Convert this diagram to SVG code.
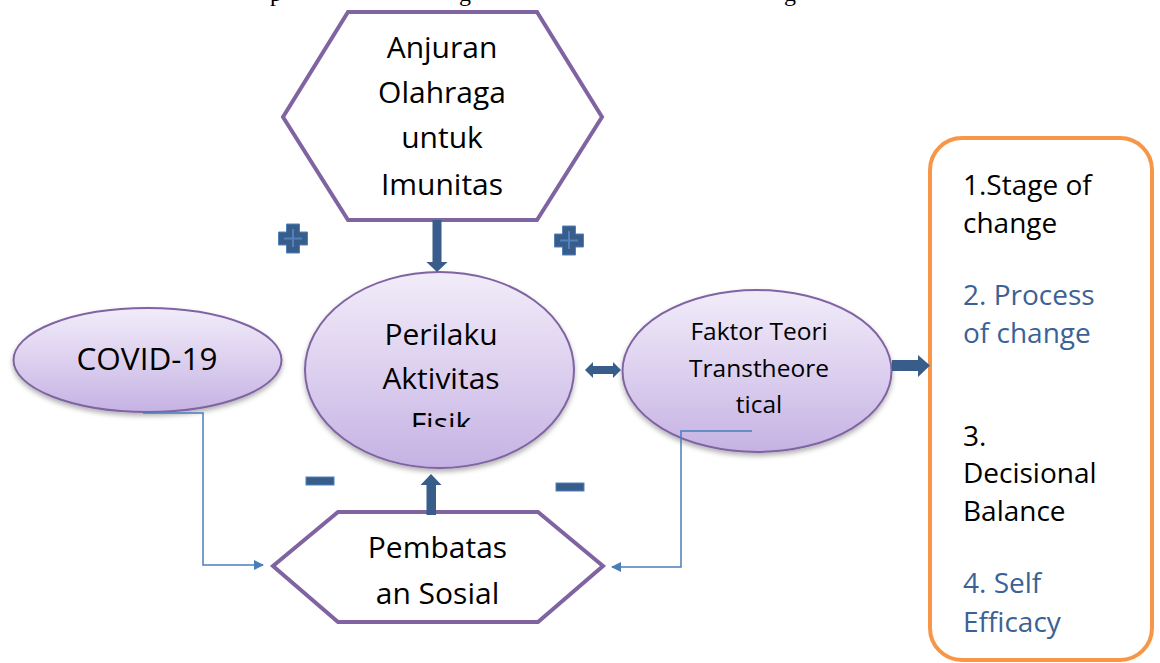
<svg xmlns="http://www.w3.org/2000/svg" width="1160" height="663" viewBox="0 0 1160 663">
<style>
.hex{fill:#ffffff;stroke:#8064A2;stroke-width:4;stroke-linejoin:miter}
.ell{fill:url(#ellGrad);stroke:#8064A2;stroke-width:2;filter:url(#shadow)}
.t{font-family:"Open Sans","Noto Sans",sans-serif;fill:#000000;text-anchor:middle}
.big{font-size:30px}
.cov{font-size:31.5px}
.mid{font-size:24.5px}
.lst{font-family:"Open Sans","Noto Sans",sans-serif;font-size:28px}
.blk{fill:#000000}
.blu{fill:#3B6296}
.ba{fill:#385D8A}
.sym{fill:#385D8A;stroke:#4F81BD;stroke-width:1}
.conn{fill:none;stroke:#4A7EBB;stroke-width:1.5}
.frag{font-family:"Liberation Serif",serif;font-size:24px;fill:#000000}
</style>
<defs>
<linearGradient id="ellGrad" x1="0" y1="0" x2="0" y2="1">
<stop offset="0" stop-color="#F1ECF9"/>
<stop offset="0.5" stop-color="#DDD0EF"/>
<stop offset="1" stop-color="#C5B2E3"/>
</linearGradient>
<filter id="shadow" x="-10%" y="-10%" width="120%" height="130%">
<feDropShadow dx="0" dy="3" stdDeviation="2.5" flood-color="#000000" flood-opacity="0.3"/>
</filter>
<marker id="arr" markerWidth="10" markerHeight="10" refX="9" refY="5" orient="auto" markerUnits="userSpaceOnUse">
<path d="M0,0 L10,5 L0,10 z" fill="#4A7EBB"/>
</marker>
<clipPath id="clipFisik"><rect x="300" y="270" width="280" height="157"/></clipPath>
</defs>

<g id="caption-fragment">
<text class="frag" x="270" y="0.5">p</text>
<text class="frag" x="459" y="0.5">g</text>
<text class="frag" x="784" y="0.5">g</text>
</g>

<g id="node-anjuran">
<polygon class="hex" points="348,12 537,12 602,117 537,220 348,220 283,117"/>
<text class="t big" x="442" y="58">Anjuran</text>
<text class="t big" x="442" y="103">Olahraga</text>
<text class="t big" x="442" y="148">untuk</text>
<text class="t big" x="442" y="195">Imunitas</text>
</g>

<g id="node-covid">
<ellipse class="ell" cx="147.5" cy="360" rx="134" ry="52"/>
<text class="t cov" x="147" y="370">COVID-19</text>
</g>

<g id="node-perilaku">
<ellipse class="ell" cx="439.5" cy="370" rx="134.5" ry="98"/>
<text class="t big" x="441" y="345">Perilaku</text>
<text class="t big" x="441" y="389">Aktivitas</text>
<text class="t big" x="441" y="434" clip-path="url(#clipFisik)">Fisik</text>
</g>

<g id="node-faktor">
<ellipse class="ell" cx="757" cy="371" rx="134.5" ry="81"/>
<text class="t mid" x="759" y="340">Faktor Teori</text>
<text class="t mid" x="759" y="377">Transtheore</text>
<text class="t mid" x="759" y="413">tical</text>
</g>

<g id="node-pembatasan">
<polygon class="hex" points="338,512 538,512 603,566 538,622 338,622 273,566"/>
<text class="t big" x="437.5" y="558">Pembatas</text>
<text class="t big" x="437.5" y="604">an Sosial</text>
</g>

<g id="node-list">
<rect x="930" y="138" width="222" height="522" rx="32" ry="32" fill="#ffffff" stroke="#F79646" stroke-width="4"/>
<text class="lst blk" x="963" y="195">1.Stage of</text>
<text class="lst blk" x="963" y="233">change</text>
<text class="lst blu" x="963" y="305">2. Process</text>
<text class="lst blu" x="963" y="343">of change</text>
<text class="lst blk" x="963" y="446">3.</text>
<text class="lst blk" x="963" y="483">Decisional</text>
<text class="lst blk" x="963" y="521">Balance</text>
<text class="lst blu" x="963" y="593">4. Self</text>
<text class="lst blu" x="963" y="632">Efficacy</text>
</g>

<g id="connectors">
<polyline class="conn" points="143,413 203,413 203,565 263,565" marker-end="url(#arr)"/>
<polyline class="conn" points="752,431 681,431 681,567 612,567" marker-end="url(#arr)"/>
<polygon class="ba" points="432.5,220 441.5,220 441.5,262 447.5,262 437,272 426.5,262 432.5,262"/>
<polygon class="ba" points="426.5,515 436,515 436,485 441.5,485 431,474 420.5,485 426.5,485"/>
<polygon class="ba" points="585,370 593,362 593,366 613,366 613,362 621,370 613,378 613,374 593,374 593,378"/>
<polygon class="ba" points="892,360 918,360 918,355 930,365.5 918,377 918,371 892,371"/>
</g>

<g id="signs">
<path class="sym" d="M286.5,224 h13 v8 h8 v13 h-8 v8 h-13 v-8 h-8 v-13 h8 z"/>
<path d="M293,229 v18 M284,238.5 h18" stroke="#4F81BD" stroke-width="2" fill="none"/>
<path class="sym" d="M562.5,226 h13 v8 h8 v13 h-8 v8 h-13 v-8 h-8 v-13 h8 z"/>
<path d="M569,231 v18 M560,240.5 h18" stroke="#4F81BD" stroke-width="2" fill="none"/>
<rect class="sym" x="306" y="477" width="28" height="8"/>
<rect class="sym" x="556" y="483" width="28" height="8"/>
</g>
</svg>
